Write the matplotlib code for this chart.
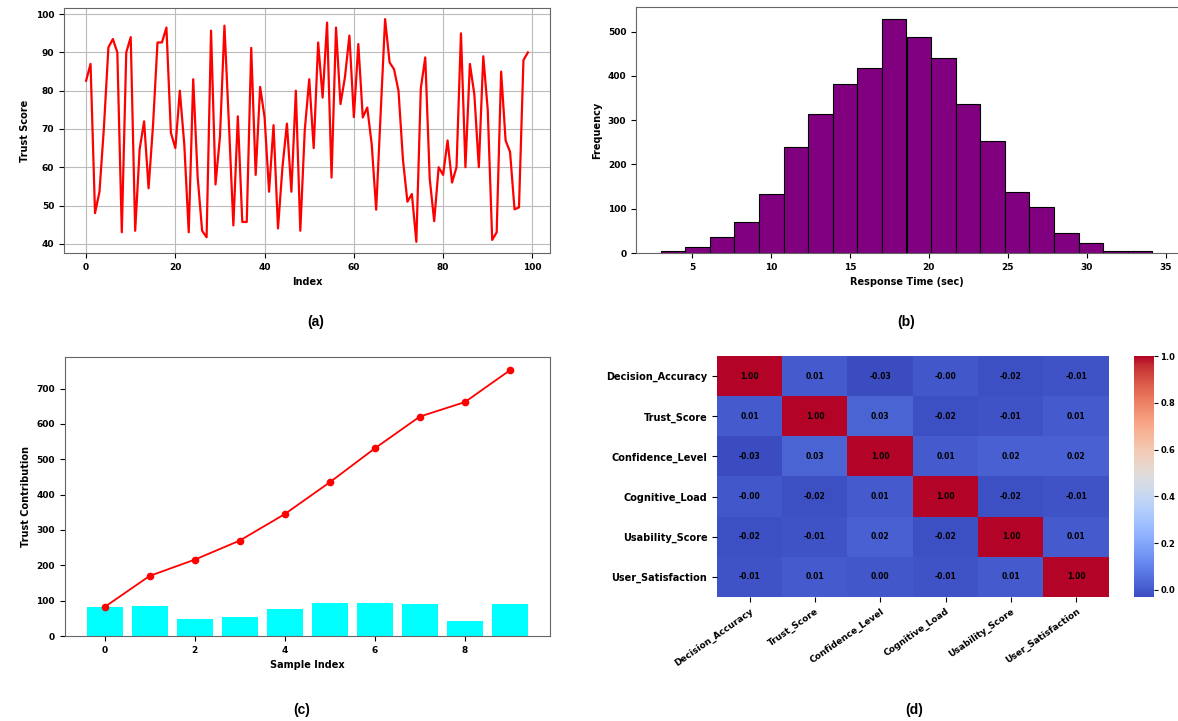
import numpy as np
import matplotlib
matplotlib.use('Agg')
import matplotlib.pyplot as plt

# ---------------- data ----------------
# (a) trust score per index
trust_scores = [82.6, 87, 48, 53.6, 70.5, 91.3, 93.5, 90, 43, 90,
                94, 43.4, 64.7, 72, 54.5, 71, 92.6, 92.6, 96.5, 69,
                65, 80, 66, 43, 83, 57.4, 43.4, 41.7, 95.7, 55.5,
                68, 97, 71.4, 44.8, 73.3, 45.7, 45.7, 91.2, 58, 81,
                73, 53.6, 71, 44, 60, 71.4, 53.6, 80, 43.4, 69.7,
                83, 65, 92.6, 78.2, 97.8, 57.3, 96.5, 76.5, 83.5, 94.4,
                73.1, 92.2, 73, 75.6, 66, 48.9, 74, 98.7, 87.4, 85.6,
                80, 62, 51, 53, 40.5, 80.6, 88.7, 57, 45.9, 60,
                58, 67, 56, 60, 95, 60, 87, 79, 60, 89,
                75, 41, 43, 85, 67, 64, 49, 49.5, 88, 90]

# (b) response time histogram
bin_start = 3.0
bin_end = 34.16
hist_counts = [5, 14, 36, 71, 134, 239, 313, 381, 418, 529,
               488, 440, 336, 253, 138, 103, 45, 23, 5, 4]

# (c) per-sample contribution and running total
sample_contrib = [83, 86, 47, 54, 75, 92, 94, 90, 43, 90]
cumulative_trust = [82, 170, 216, 270, 345, 435, 531, 621, 662, 752]

# (d) correlation matrix
corr_labels = ['Decision_Accuracy', 'Trust_Score', 'Confidence_Level',
               'Cognitive_Load', 'Usability_Score', 'User_Satisfaction']
corr_values = [[1.00, 0.01, -0.03, -0.00, -0.02, -0.01],
               [0.01, 1.00, 0.03, -0.02, -0.01, 0.01],
               [-0.03, 0.03, 1.00, 0.01, 0.02, 0.02],
               [-0.00, -0.02, 0.01, 1.00, -0.02, -0.01],
               [-0.02, -0.01, 0.02, -0.02, 1.00, 0.01],
               [-0.01, 0.01, 0.00, -0.01, 0.01, 1.00]]

captions = ['(a)', '(b)', '(c)', '(d)']

# ---------------- figure ----------------
W, H = 1178, 721
plt.rcParams['font.family'] = ['DejaVu Sans']
plt.rcParams['font.weight'] = 'bold'
plt.rcParams['axes.labelweight'] = 'bold'
plt.rcParams['xtick.labelsize'] = 6.5
plt.rcParams['ytick.labelsize'] = 6.5
plt.rcParams['axes.labelsize'] = 7
plt.rcParams['axes.edgecolor'] = '#666666'

fig = plt.figure(figsize=(W / 100, H / 100), dpi=100)


def box(left, right, top, bottom):
    # pixel box -> figure fraction
    return [left / W, 1 - bottom / H, (right - left) / W, (bottom - top) / H]


# (a) line chart
ax_a = fig.add_axes(box(64, 550, 8, 253))
ax_a.plot(range(len(trust_scores)), trust_scores, color='red', linewidth=1.6)
ax_a.set_xlabel('Index')
ax_a.set_ylabel('Trust Score')
ax_a.grid(True, color='#bbbbbb', linewidth=0.8)

# (b) histogram
ax_b = fig.add_axes(box(636, 1177, 7, 253))
edges = np.linspace(bin_start, bin_end, len(hist_counts) + 1)
ax_b.hist(edges[:-1], bins=edges, weights=hist_counts,
          color='purple', edgecolor='black', linewidth=0.8)
ax_b.set_xlabel('Response Time (sec)')
ax_b.set_ylabel('Frequency')
ax_b.spines['right'].set_visible(False)

# (c) bars + cumulative line
ax_c = fig.add_axes(box(64.5, 550, 357, 636))
idx = np.arange(len(sample_contrib))
ax_c.bar(idx, sample_contrib, color='cyan')
ax_c.plot(idx, cumulative_trust, color='red', marker='o', markersize=4.5,
          linewidth=1.3)
ax_c.set_xlabel('Sample Index')
ax_c.set_ylabel('Trust Contribution')

# (d) correlation heatmap
ax_d = fig.add_axes(box(717, 1109, 356, 597))
mat = np.array(corr_values)
im = ax_d.imshow(mat, cmap='coolwarm', aspect='auto',
                 vmin=mat.min(), vmax=mat.max())
for i in range(mat.shape[0]):
    for j in range(mat.shape[1]):
        ax_d.text(j, i, f'{mat[i, j]:.2f}', ha='center', va='center',
                  fontsize=5.5, fontweight='bold', color='black')
ax_d.set_xticks(range(len(corr_labels)))
ax_d.set_yticks(range(len(corr_labels)))
ax_d.set_xticklabels(corr_labels, rotation=35, ha='right',
                     rotation_mode='anchor', fontsize=6.5)
ax_d.set_yticklabels(corr_labels, fontsize=7)
for s in ax_d.spines.values():
    s.set_visible(False)

cax = fig.add_axes(box(1134, 1154, 356, 597))
cb = fig.colorbar(im, cax=cax)
cb.set_ticks([0.0, 0.2, 0.4, 0.6, 0.8, 1.0])
cb.ax.tick_params(labelsize=6, pad=1.5, length=3)
cb.outline.set_visible(False)

# panel captions
cap_pos = [(316, 322), (906, 322), (302, 710), (914, 710)]
for text, (x, y) in zip(captions, cap_pos):
    fig.text(x / W, 1 - y / H, text, ha='center', va='center',
             fontsize=10, fontweight='bold', family='Liberation Sans')

fig.savefig('out.png', dpi=100)
